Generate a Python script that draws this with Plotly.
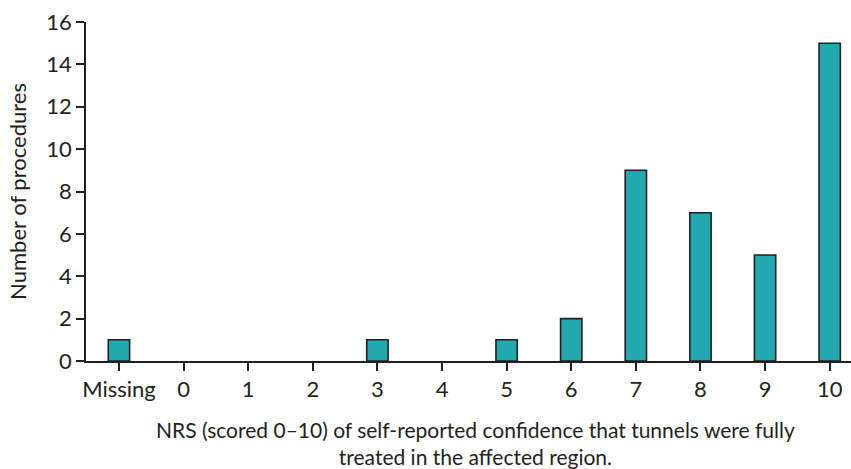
import plotly.graph_objects as go

categories = ["Missing", "0", "1", "2", "3", "4", "5", "6", "7", "8", "9", "10"]
counts = [1, 0, 0, 0, 1, 0, 1, 2, 9, 7, 5, 15]
y_ticks = [0, 2, 4, 6, 8, 10, 12, 14, 16]
x_title = ("NRS (scored 0–10) of self-reported confidence that tunnels were fully<br>"
           "treated in the affected region.")

FONT = "Lato, 'Open Sans', sans-serif"
TXT = "#231f20"
FS = 22

fig = go.Figure(go.Bar(
    x=categories, y=counts, width=0.33,
    marker=dict(color="#22a9b0",
                line=dict(color="#231f20", width=[1.6 if c > 0 else 0 for c in counts])),
))

fig.update_layout(
    width=851, height=469,
    margin=dict(l=86, r=0, t=22, b=108, autoexpand=False),
    paper_bgcolor="white", plot_bgcolor="white",
    font=dict(family=FONT, size=FS, color=TXT),
    showlegend=False,
    xaxis=dict(
        type="category", range=[-0.51, 11.33],
        showline=True, linecolor=TXT, linewidth=1.6,
        ticks="outside", ticklen=8, tickwidth=1.6, tickcolor=TXT,
        showgrid=False, zeroline=False,
        tickfont=dict(family=FONT, size=FS, color=TXT),
    ),
    yaxis=dict(
        range=[0, 16], tickvals=y_ticks,
        showline=True, linecolor=TXT, linewidth=1.6,
        ticks="outside", ticklen=8, tickwidth=1.6, tickcolor=TXT,
        showgrid=False, zeroline=False,
        tickfont=dict(family=FONT, size=FS, color=TXT),
        title=dict(text="Number of procedures", standoff=14,
                   font=dict(family=FONT, size=FS, color=TXT)),
    ),
    annotations=[dict(
        text=x_title,
        xref="paper", yref="paper", x=(475 - 86) / 765, y=-(443 - 361) / 339,
        xanchor="center", yanchor="middle", showarrow=False, align="center",
        font=dict(family=FONT, size=21, color=TXT),
    )],
)

fig.write_html("out.html", config={"displayModeBar": False},
               post_script="document.body.style.margin='0';document.body.style.overflow='hidden';")
